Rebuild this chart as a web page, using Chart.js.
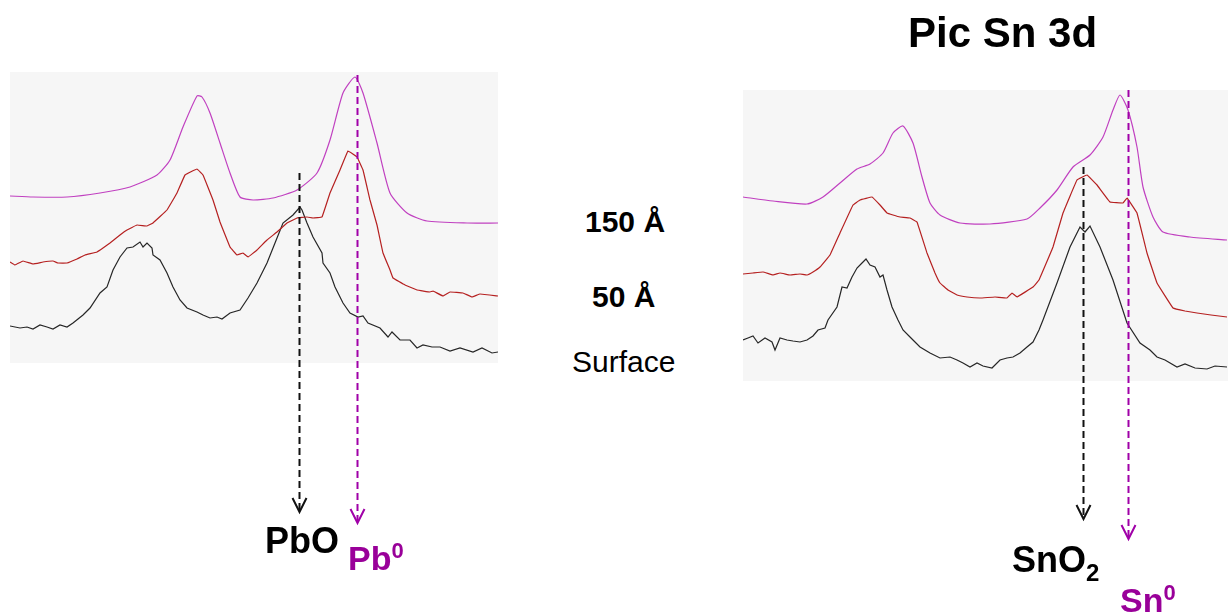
<!DOCTYPE html>
<html lang="fr">
<head>
<meta charset="utf-8">
<title>Pic Pb 4f / Sn 3d</title>
<script src="https://cdn.jsdelivr.net/npm/chart.js@4.4.0/dist/chart.umd.min.js"></script>
<style>
    body {
        margin: 0;
        width: 1228px;
        height: 615px;
        position: relative;
        overflow: hidden;
        background: #fff;
        font-family: "Liberation Sans", Arial, sans-serif;
    }
    canvas { position: absolute; top: 0; }
    .lbl { position: absolute; white-space: nowrap; line-height: 1; color: #000; font-weight: bold; }
    .lbl .up { position: relative; font-size: 22px; top: -12px; }
    .lbl .down { position: relative; font-size: 24px; top: 9px; }
    .violet { color: #990099; }
</style>
</head>
<body>
<canvas id="pbChart" width="488" height="615" style="left:10px"></canvas>
<canvas id="snChart" width="485" height="615" style="left:743px"></canvas>

<div class="lbl" style="left:908px; top:12px; font-size:42px;">Pic Sn 3d</div>
<div class="lbl" style="left:585px; top:207px; font-size:30px;">150 Å</div>
<div class="lbl" style="left:592px; top:282px; font-size:30px;">50 Å</div>
<div class="lbl" style="left:572px; top:347px; font-size:30px; font-weight:normal;">Surface</div>
<div class="lbl" style="left:265px; top:523px; font-size:36px;">PbO</div>
<div class="lbl violet" style="left:348px; top:541px; font-size:34px;">Pb<span class="up">0</span></div>
<div class="lbl" style="left:1012px; top:542px; font-size:36px;">SnO<span class="down">2</span></div>
<div class="lbl violet" style="left:1120px; top:583px; font-size:34px;">Sn<span class="up">0</span></div>

<script>
// Pic Pb 4f : canal (x) / intensité (y)
const pbDeep150X = [0, 23, 57, 90, 120, 147, 160, 173, 187, 192, 200, 210, 220, 230, 243, 263, 287, 307, 320, 333, 345, 353, 367, 380, 397, 417, 457, 488];
const pbDeep150Y = [167, 166, 166, 170, 176, 188, 203, 236, 267, 266, 250, 220, 190, 166, 163, 165, 173, 190, 223, 270, 286, 270, 220, 170, 150, 142, 140, 140];

const pbDeep50X = [0, 5, 13, 23, 33, 43, 48, 57, 67, 75, 87, 93, 100, 110, 117, 127, 137, 143, 157, 167, 175, 187, 193, 203, 210, 220, 227, 233, 238, 247, 257, 267, 277, 287, 297, 303, 312, 320, 330, 338, 347, 353, 360, 367, 373, 380, 383, 395, 407, 420, 423, 433, 440, 453, 462, 470, 488];
const pbDeep50Y = [101, 98, 102, 99, 101, 102, 100, 100, 104, 108, 111, 115, 120, 128, 133, 138, 137, 140, 153, 170, 188, 194, 188, 163, 141, 116, 108, 110, 106, 113, 123, 131, 140, 145, 146, 145, 146, 170, 193, 212, 206, 193, 163, 138, 110, 93, 85, 78, 73, 71, 72, 67, 71, 70, 66, 69, 67];

const pbSurfaceX = [0, 10, 17, 23, 30, 37, 43, 50, 57, 63, 73, 80, 90, 97, 103, 110, 117, 123, 130, 133, 137, 142, 143, 150, 157, 163, 170, 177, 187, 193, 200, 207, 212, 220, 230, 238, 247, 257, 265, 273, 283, 290, 292, 297, 303, 312, 313, 320, 325, 333, 340, 348, 353, 358, 370, 378, 382, 390, 400, 407, 413, 422, 430, 440, 450, 463, 472, 482, 488];
const pbSurfaceY = [37, 35, 36, 34, 38, 36, 34, 38, 36, 40, 48, 55, 70, 76, 93, 106, 115, 116, 121, 116, 120, 115, 108, 103, 90, 76, 63, 55, 51, 48, 45, 46, 44, 50, 53, 65, 80, 100, 120, 140, 148, 156, 153, 140, 126, 110, 100, 90, 76, 60, 50, 46, 47, 40, 35, 26, 31, 23, 23, 15, 18, 16, 16, 12, 15, 11, 15, 10, 11];

// Pic Sn 3d
const snDeep150X = [0, 30, 64, 80, 97, 114, 127, 140, 150, 160, 170, 179, 187, 197, 217, 247, 284, 297, 314, 330, 347, 360, 370, 377, 385, 394, 400, 410, 420, 447, 484];
const snDeep150Y = [184, 180, 177, 184, 198, 212, 217, 228, 248, 255, 238, 204, 178, 166, 158, 157, 162, 173, 191, 214, 226, 244, 271, 286, 271, 234, 194, 164, 149, 144, 141];

const snDeep50X = [0, 10, 20, 30, 37, 47, 57, 64, 70, 77, 87, 97, 110, 117, 129, 137, 144, 150, 157, 167, 174, 184, 192, 197, 205, 214, 224, 237, 252, 264, 269, 274, 290, 296, 310, 320, 334, 344, 354, 367, 380, 384, 394, 404, 414, 430, 442, 454, 468, 484];
const snDeep50Y = [107, 108, 109, 106, 108, 106, 107, 106, 109, 114, 126, 148, 176, 181, 184, 176, 168, 166, 164, 163, 159, 128, 108, 98, 91, 86, 84, 83, 84, 83, 88, 84, 94, 101, 134, 168, 201, 206, 196, 179, 178, 183, 168, 128, 98, 73, 70, 68, 66, 64];

const snSurfaceX = [0, 5, 10, 15, 22, 29, 32, 37, 44, 50, 57, 64, 70, 75, 82, 85, 94, 99, 104, 109, 114, 119, 123, 127, 132, 137, 140, 144, 149, 155, 160, 167, 177, 187, 197, 207, 214, 220, 227, 234, 240, 249, 257, 264, 270, 277, 284, 290, 296, 300, 314, 327, 337, 342, 347, 357, 370, 384, 397, 407, 414, 422, 434, 442, 452, 464, 472, 484];
const snSurfaceY = [41, 43, 45, 38, 43, 39, 31, 43, 41, 40, 39, 41, 45, 51, 53, 61, 74, 94, 93, 104, 113, 118, 122, 116, 114, 104, 106, 91, 74, 61, 51, 44, 34, 28, 23, 24, 21, 18, 14, 18, 15, 13, 21, 23, 24, 28, 34, 39, 51, 61, 98, 134, 154, 149, 155, 134, 101, 58, 38, 31, 24, 21, 14, 17, 13, 12, 15, 14];

// Flèches : position du pic (canal) et départ (intensité)
const pbArrowChannel = [289, 347];
const pbArrowFrom = [190, 288];
const snArrowChannel = [340, 385];
const snArrowFrom = [214, 291];

const seriesColors = ['#c040c0', '#b52020', '#262626'];
const seriesTension = [0.2, 0.05, 0];
const arrowColors = ['#111111', '#a000a8'];

function toPoints(xs, ys) {
    return xs.map((x, i) => ({ x: x, y: ys[i] }));
}

// fond gris du spectre + flèches pointillées vers les étiquettes
const panelPlugin = {
    id: 'panel',
    beforeDatasetsDraw(chart, args, opts) {
        const { ctx, chartArea } = chart;
        ctx.save();
        ctx.fillStyle = '#f6f6f6';
        ctx.fillRect(chartArea.left, chartArea.top, chartArea.right - chartArea.left, chartArea.bottom - chartArea.top);
        ctx.restore();
    },
    afterDatasetsDraw(chart, args, opts) {
        const { ctx, scales } = chart;
        opts.channels.forEach((channel, i) => {
            const x = Math.round(scales.x.getPixelForValue(channel)) + 0.5;
            const yStart = scales.y.getPixelForValue(opts.from[i]);
            const yTip = opts.tips[i];
            ctx.save();
            ctx.strokeStyle = arrowColors[i];
            ctx.lineWidth = 2;
            ctx.setLineDash([7, 4]);
            ctx.beginPath();
            ctx.moveTo(x, yStart);
            ctx.lineTo(x, yTip - 2);
            ctx.stroke();
            ctx.setLineDash([]);
            ctx.beginPath();
            ctx.moveTo(x - 7, yTip - 14);
            ctx.lineTo(x, yTip);
            ctx.lineTo(x + 7, yTip - 14);
            ctx.stroke();
            ctx.restore();
        });
    }
};

function makeSpectrum(canvasId, curves, xMax, padTop, padBottom, arrows) {
    const ctx = document.getElementById(canvasId).getContext('2d');
    return new Chart(ctx, {
        type: 'line',
        data: {
            datasets: curves.map((points, i) => ({
                data: points,
                borderColor: seriesColors[i],
                borderWidth: 1.2,
                pointRadius: 0,
                tension: seriesTension[i],
                fill: false
            }))
        },
        options: {
            responsive: false,
            animation: false,
            layout: { padding: { top: padTop, bottom: padBottom, left: 0, right: 0 } },
            scales: {
                x: { type: 'linear', min: 0, max: xMax, display: false },
                y: { min: 0, max: 291, display: false }
            },
            plugins: {
                legend: { display: false },
                tooltip: { enabled: false },
                panel: arrows
            }
        },
        plugins: [panelPlugin]
    });
}

document.addEventListener('DOMContentLoaded', () => {
    makeSpectrum('pbChart', [
        toPoints(pbDeep150X, pbDeep150Y),
        toPoints(pbDeep50X, pbDeep50Y),
        toPoints(pbSurfaceX, pbSurfaceY)
    ], 488, 72, 252, { channels: pbArrowChannel, from: pbArrowFrom, tips: [512, 523] });

    makeSpectrum('snChart', [
        toPoints(snDeep150X, snDeep150Y),
        toPoints(snDeep50X, snDeep50Y),
        toPoints(snSurfaceX, snSurfaceY)
    ], 485, 90, 234, { channels: snArrowChannel, from: snArrowFrom, tips: [519, 539] });
});
</script>
</body>
</html>
